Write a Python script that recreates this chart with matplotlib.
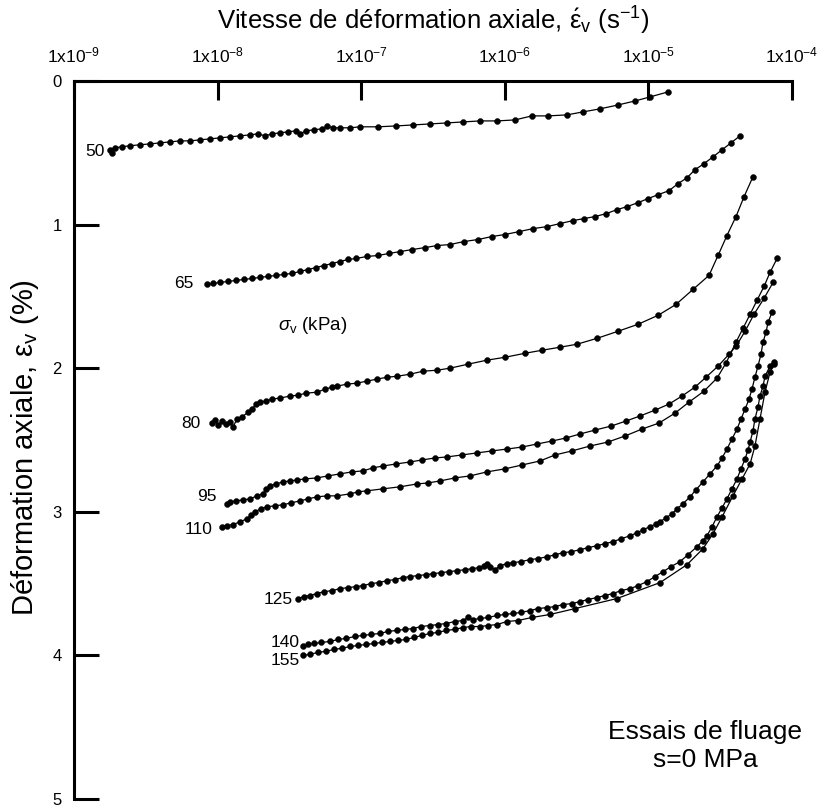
import numpy as np
import matplotlib
matplotlib.use("Agg")
import matplotlib.pyplot as plt
from matplotlib.ticker import NullLocator

plt.rcParams['font.family'] = ['Liberation Sans', 'DejaVu Sans']
plt.rcParams['mathtext.fontset'] = 'custom'
plt.rcParams['mathtext.rm'] = 'Liberation Sans'
plt.rcParams['mathtext.it'] = 'Liberation Sans:italic'
plt.rcParams['mathtext.default'] = 'regular'

# vertical stress of each creep stage (kPa)
stress = [50, 65, 80, 95, 110, 125, 140, 155]

# log10 of the axial strain rate (1/s) and axial strain (%)
lg_50 = [-8.735, -8.749, -8.714, -8.666, -8.610, -8.540, -8.471, -8.401, -8.331, -8.262,
         -8.192, -8.123, -8.053, -7.983, -7.914, -7.844, -7.774, -7.719, -7.670, -7.621,
         -7.565, -7.510, -7.454, -7.426, -7.384, -7.329, -7.273, -7.238, -7.196, -7.148,
         -7.078, -7.008, -6.883, -6.758, -6.639, -6.521, -6.403, -6.291, -6.173, -6.054,
         -5.929, -5.811, -5.699, -5.567, -5.455, -5.337, -5.212, -5.093, -4.989, -4.864]
eps_50 = [0.500, 0.479, 0.465, 0.458, 0.451, 0.444, 0.438, 0.431, 0.424, 0.417,
          0.417, 0.410, 0.403, 0.396, 0.389, 0.382, 0.375, 0.368, 0.382, 0.368,
          0.361, 0.354, 0.347, 0.368, 0.347, 0.340, 0.333, 0.313, 0.326, 0.326,
          0.326, 0.319, 0.319, 0.313, 0.306, 0.299, 0.292, 0.285, 0.278, 0.278,
          0.271, 0.243, 0.243, 0.236, 0.215, 0.194, 0.167, 0.139, 0.111, 0.076]

lg_65 = [-8.074, -8.032, -7.983, -7.928, -7.872, -7.816, -7.760, -7.705, -7.649, -7.593,
         -7.538, -7.482, -7.426, -7.370, -7.315, -7.259, -7.203, -7.148, -7.092, -7.036,
         -6.960, -6.883, -6.806, -6.730, -6.646, -6.556, -6.472, -6.382, -6.284, -6.187,
         -6.089, -5.999, -5.901, -5.804, -5.706, -5.616, -5.525, -5.448, -5.372, -5.295,
         -5.219, -5.149, -5.072, -5.003, -4.933, -4.857, -4.794, -4.731, -4.676, -4.613,
         -4.550, -4.487, -4.425, -4.362]
eps_65 = [1.417, 1.410, 1.403, 1.396, 1.389, 1.382, 1.375, 1.368, 1.361, 1.354,
          1.347, 1.340, 1.326, 1.313, 1.299, 1.285, 1.271, 1.257, 1.243, 1.236,
          1.222, 1.215, 1.201, 1.188, 1.174, 1.160, 1.146, 1.139, 1.118, 1.104,
          1.083, 1.069, 1.049, 1.028, 1.014, 0.993, 0.972, 0.958, 0.944, 0.924,
          0.896, 0.875, 0.847, 0.819, 0.792, 0.764, 0.715, 0.674, 0.618, 0.576,
          0.528, 0.479, 0.431, 0.382]

lg_80 = [-8.039, -8.018, -7.997, -7.969, -7.942, -7.914, -7.893, -7.865, -7.830, -7.788,
         -7.760, -7.733, -7.705, -7.663, -7.621, -7.565, -7.496, -7.440, -7.384, -7.308,
         -7.252, -7.203, -7.169, -7.099, -7.029, -6.960, -6.890, -6.820, -6.751, -6.660,
         -6.570, -6.472, -6.382, -6.256, -6.124, -5.999, -5.859, -5.741, -5.616, -5.497,
         -5.358, -5.212, -5.072, -4.933, -4.808, -4.689, -4.578, -4.515, -4.453, -4.390,
         -4.334, -4.272]
eps_80 = [2.382, 2.361, 2.396, 2.368, 2.389, 2.375, 2.410, 2.354, 2.340, 2.306,
          2.285, 2.250, 2.236, 2.229, 2.215, 2.208, 2.194, 2.188, 2.174, 2.167,
          2.146, 2.132, 2.125, 2.111, 2.104, 2.090, 2.076, 2.063, 2.056, 2.042,
          2.021, 2.014, 2.000, 1.972, 1.944, 1.924, 1.896, 1.875, 1.854, 1.833,
          1.792, 1.743, 1.694, 1.632, 1.556, 1.451, 1.354, 1.215, 1.076, 0.944,
          0.806, 0.667]

lg_95 = [-7.935, -7.914, -7.872, -7.823, -7.774, -7.726, -7.684, -7.663, -7.635, -7.593,
         -7.545, -7.496, -7.447, -7.391, -7.308, -7.231, -7.148, -7.064, -6.987, -6.918,
         -6.848, -6.758, -6.660, -6.577, -6.486, -6.403, -6.298, -6.194, -6.089, -5.985,
         -5.880, -5.776, -5.671, -5.574, -5.476, -5.372, -5.260, -5.156, -5.059, -4.954,
         -4.857, -4.766, -4.676, -4.599, -4.515, -4.439, -4.390, -4.327, -4.265, -4.195,
         -4.132]
eps_95 = [2.944, 2.931, 2.924, 2.917, 2.910, 2.889, 2.875, 2.840, 2.819, 2.806,
          2.792, 2.785, 2.778, 2.771, 2.764, 2.750, 2.736, 2.722, 2.715, 2.694,
          2.681, 2.667, 2.653, 2.639, 2.625, 2.618, 2.604, 2.590, 2.576, 2.563,
          2.549, 2.528, 2.507, 2.486, 2.458, 2.431, 2.403, 2.368, 2.333, 2.292,
          2.250, 2.194, 2.132, 2.063, 1.986, 1.903, 1.847, 1.743, 1.625, 1.514,
          1.403]

lg_110 = [-7.969, -7.935, -7.893, -7.844, -7.795, -7.767, -7.740, -7.698, -7.656, -7.600,
          -7.545, -7.489, -7.426, -7.370, -7.308, -7.238, -7.169, -7.078, -7.022, -6.960,
          -6.848, -6.730, -6.611, -6.535, -6.451, -6.347, -6.242, -6.124, -5.999, -5.880,
          -5.755, -5.650, -5.532, -5.407, -5.281, -5.163, -5.045, -4.926, -4.815, -4.717,
          -4.613, -4.522, -4.460, -4.390, -4.341, -4.292, -4.244, -4.195, -4.153, -4.104]
eps_110 = [3.104, 3.097, 3.090, 3.069, 3.049, 3.021, 3.000, 2.979, 2.965, 2.958,
           2.951, 2.938, 2.924, 2.910, 2.896, 2.889, 2.889, 2.875, 2.861, 2.854,
           2.840, 2.826, 2.806, 2.799, 2.785, 2.764, 2.750, 2.722, 2.701, 2.674,
           2.646, 2.604, 2.576, 2.542, 2.514, 2.472, 2.424, 2.382, 2.313, 2.236,
           2.160, 2.069, 1.965, 1.819, 1.722, 1.625, 1.528, 1.431, 1.333, 1.236]

lg_125 = [-7.440, -7.398, -7.357, -7.308, -7.259, -7.203, -7.148, -7.092, -7.036, -6.987,
          -6.932, -6.876, -6.820, -6.765, -6.709, -6.660, -6.604, -6.549, -6.500, -6.444,
          -6.389, -6.333, -6.277, -6.228, -6.180, -6.145, -6.124, -6.103, -6.068, -6.033,
          -5.985, -5.943, -5.887, -5.825, -5.769, -5.706, -5.650, -5.595, -5.539, -5.476,
          -5.421, -5.358, -5.302, -5.246, -5.191, -5.128, -5.079, -5.038, -4.989, -4.947,
          -4.919, -4.877, -4.836, -4.801, -4.759, -4.710, -4.669, -4.620, -4.571, -4.522,
          -4.487, -4.453, -4.418, -4.383, -4.355, -4.327, -4.299, -4.279, -4.258, -4.237,
          -4.216, -4.202, -4.181, -4.167, -4.139]
eps_125 = [3.604, 3.590, 3.583, 3.569, 3.556, 3.549, 3.535, 3.528, 3.521, 3.514,
           3.500, 3.493, 3.479, 3.472, 3.458, 3.451, 3.444, 3.438, 3.431, 3.424,
           3.417, 3.410, 3.403, 3.396, 3.389, 3.375, 3.361, 3.382, 3.403, 3.375,
           3.361, 3.354, 3.347, 3.333, 3.326, 3.313, 3.299, 3.285, 3.278, 3.264,
           3.250, 3.236, 3.222, 3.208, 3.188, 3.167, 3.146, 3.125, 3.104, 3.083,
           3.069, 3.042, 3.014, 2.979, 2.944, 2.896, 2.847, 2.792, 2.736, 2.681,
           2.625, 2.563, 2.493, 2.424, 2.354, 2.285, 2.215, 2.146, 2.063, 1.986,
           1.903, 1.819, 1.750, 1.681, 1.611]

lg_140 = [-7.405, -7.370, -7.329, -7.280, -7.217, -7.162, -7.106, -7.043, -6.987, -6.932,
          -6.869, -6.813, -6.751, -6.695, -6.639, -6.584, -6.521, -6.465, -6.409, -6.347,
          -6.291, -6.256, -6.221, -6.173, -6.117, -6.054, -5.999, -5.943, -5.887, -5.825,
          -5.769, -5.706, -5.650, -5.595, -5.532, -5.476, -5.421, -5.358, -5.302, -5.246,
          -5.191, -5.128, -5.072, -5.010, -4.954, -4.898, -4.843, -4.780, -4.724, -4.662,
          -4.620, -4.592, -4.557, -4.522, -4.487, -4.453, -4.418, -4.383, -4.355, -4.327,
          -4.306, -4.292, -4.272, -4.258, -4.237, -4.223, -4.202, -4.188, -4.153, -4.125]
eps_140 = [3.938, 3.924, 3.917, 3.910, 3.903, 3.889, 3.882, 3.868, 3.861, 3.854,
           3.847, 3.833, 3.826, 3.819, 3.813, 3.799, 3.792, 3.785, 3.778, 3.764,
           3.757, 3.736, 3.750, 3.743, 3.736, 3.722, 3.715, 3.708, 3.701, 3.688,
           3.674, 3.667, 3.660, 3.646, 3.639, 3.625, 3.611, 3.597, 3.583, 3.569,
           3.549, 3.535, 3.514, 3.486, 3.451, 3.417, 3.382, 3.347, 3.299, 3.243,
           3.201, 3.167, 3.104, 3.035, 2.972, 2.910, 2.840, 2.771, 2.701, 2.632,
           2.569, 2.514, 2.438, 2.354, 2.271, 2.194, 2.125, 2.056, 1.986, 1.958]

lg_155 = [-7.405, -7.357, -7.301, -7.245, -7.189, -7.134, -7.078, -7.022, -6.967, -6.911,
          -6.855, -6.799, -6.744, -6.688, -6.632, -6.577, -6.521, -6.465, -6.409, -6.347,
          -6.291, -6.235, -6.173, -6.117, -6.054, -5.985, -5.908, -5.811, -5.685, -5.511,
          -5.219, -4.919, -4.731, -4.620, -4.550, -4.487, -4.411, -4.348, -4.292, -4.258,
          -4.223, -4.188, -4.153, -4.125]
eps_155 = [4.000, 3.993, 3.979, 3.972, 3.958, 3.951, 3.938, 3.931, 3.924, 3.917,
           3.910, 3.903, 3.896, 3.889, 3.875, 3.861, 3.847, 3.840, 3.826, 3.819,
           3.806, 3.799, 3.799, 3.792, 3.785, 3.764, 3.757, 3.736, 3.715, 3.674,
           3.604, 3.493, 3.368, 3.257, 3.153, 3.035, 2.889, 2.771, 2.667, 2.542,
           2.354, 2.167, 2.028, 1.972]

curves = [(lg_50, eps_50), (lg_65, eps_65), (lg_80, eps_80), (lg_95, eps_95),
          (lg_110, eps_110), (lg_125, eps_125), (lg_140, eps_140), (lg_155, eps_155)]

xtick_values = [1e-9, 1e-8, 1e-7, 1e-6, 1e-5, 1e-4]
xtick_labels = ['1x10$^{-9}$', '1x10$^{-8}$', '1x10$^{-7}$',
                '1x10$^{-6}$', '1x10$^{-5}$', '1x10$^{-4}$']
ytick_values = [0, 1, 2, 3, 4, 5]

# offsets (points) of the stress labels from the first point of each curve
label_offsets = [(-5, 0.7), (-10, 0.7), (-8.6, 0), (-7.2, 5), (-7.2, -2.2),
                 (-3.6, -0.7), (-2.2, 2.9), (-2.2, -3.6)]

fig = plt.figure(figsize=(8.22, 8.09), dpi=100)
ax = fig.add_axes([74 / 822, 10 / 809, 718 / 822, 718 / 809])

for s, (lg, eps), off in zip(stress, curves, label_offsets):
    rate = 10.0 ** np.array(lg)
    ax.plot(rate, eps, '-', color='black', lw=0.9, marker='o', ms=4.3,
            mfc='black', mec='black', mew=0.3)
    ax.annotate(str(s), xy=(rate[0], eps[0]), xytext=off, textcoords='offset points',
                ha='right', va='center', fontsize=12.5)

ax.set_xscale('log')
ax.set_xlim(1e-9, 1e-4)
ax.set_ylim(5, 0)
ax.set_xticks(xtick_values)
ax.set_xticklabels(xtick_labels)
ax.xaxis.set_minor_locator(NullLocator())
ax.set_yticks(ytick_values)

ax.xaxis.tick_top()
ax.xaxis.set_label_position('top')
ax.tick_params(axis='x', direction='in', length=13.5, width=2.2, pad=11, labelsize=12.5)
ax.tick_params(axis='y', direction='in', length=18, width=2.2, pad=9, labelsize=12)

for side in ['right', 'bottom']:
    ax.spines[side].set_visible(False)
for side in ['top', 'left']:
    ax.spines[side].set_linewidth(2.2)

ax.set_xlabel(r'Vitesse de déformation axiale, $\acute{\varepsilon}_{v}$ (s$^{-1}$)',
              fontsize=18.5)
ax.xaxis.set_label_coords(0.5, 1.071)
ax.set_ylabel(r'Déformation axiale, $\varepsilon_{v}$ (%)', fontsize=21)
ax.yaxis.set_label_coords(-0.046, 0.489)

ax.text(10 ** -7.336, 1.70, r'$\mathit{\sigma}_{v}$ (kPa)', fontsize=13.5,
        ha='center', va='center')

ax.text(0.879, 0.094, 'Essais de fluage', transform=ax.transAxes,
        ha='center', va='center', fontsize=19)
ax.text(0.879, 0.055, 's=0 MPa', transform=ax.transAxes,
        ha='center', va='center', fontsize=19)

fig.savefig('out.png', dpi=100)
